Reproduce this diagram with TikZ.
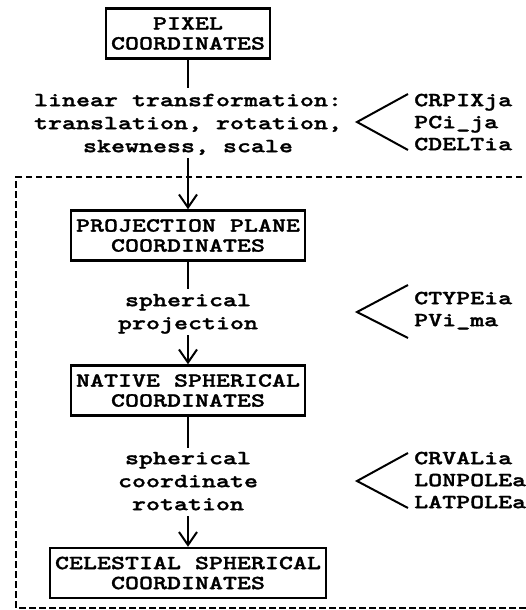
\documentclass[tikz,border=0pt]{standalone}
\usepackage{fontspec}
\newfontfamily\cour[FakeStretch=1.333,FakeBold=1.5]{lmmonolt10-bold.otf}
\usetikzlibrary{arrows.meta}
\begin{document}
\begin{tikzpicture}[x=1pt,y=-1pt,
  box/.style={draw, line width=2.5pt, inner xsep=5pt, inner ysep=0pt,
    minimum height=50pt, align=center, font=\cour\fontsize{20}{20}\selectfont},
  lbl/.style={align=center, inner sep=0pt, anchor=north,
    font=\cour\fontsize{20}{23}\selectfont},
  parm/.style={align=left, inner sep=0pt, anchor=north west,
    font=\cour\fontsize{20}{22}\selectfont},
  conn/.style={line width=2pt},
  arr/.style={conn, -{Straight Barb[length=13pt,width=18pt]}},
  brk/.style={line width=2pt, line join=miter},
  frame/.style={line width=1.2pt, dash pattern=on 6.5pt off 3.5pt}]
\useasboundingbox (0,0) rectangle (526,610);
% dashed frame
\draw[frame] (532,177) -- (16,177) -- (16,608) -- (532,608);
% boxes and texts
\node[box] (pix) at (188,33.5) {PIXEL\\COORDINATES};
\node[lbl] (lin) at (188,88) {\rule{0pt}{18pt}linear transformation:\\translation, rotation,\\skewness, scale\rule[-6pt]{0pt}{6pt}};
\node[box] (ppc) at (188,235.5) {PROJECTION PLANE\\COORDINATES};
\node[lbl] (sph) at (188,289) {\rule{0pt}{17pt}spherical\\projection\rule[-6pt]{0pt}{6pt}};
\node[box] (nsc) at (188,390.5) {NATIVE SPHERICAL\\COORDINATES};
\node[lbl] (rot) at (188,448) {\rule{0pt}{16pt}spherical\\coordinate\\rotation\rule[-6pt]{0pt}{6pt}};
\node[box] (csc) at (188,573) {CELESTIAL SPHERICAL\\COORDINATES};
% connectors
\draw[conn] (pix) -- (lin);
\draw[arr] (lin) -- (ppc);
\draw[conn] (ppc) -- (sph);
\draw[arr] (sph) -- (nsc);
\draw[conn] (nsc) -- (rot);
\draw[arr] (rot) -- (csc);
% brackets
\coordinate (b1) at (357,122);
\coordinate (b2) at (357,312);
\coordinate (b3) at (357,481);
\draw[brk] ([shift={(51,-28)}]b1) -- (b1) -- ([shift={(51,28)}]b1);
\draw[brk] ([shift={(51,-27)}]b2) -- (b2) -- ([shift={(51,26)}]b2);
\draw[brk] ([shift={(51,-28)}]b3) -- (b3) -- ([shift={(51,27)}]b3);
% parameter lists
\node[parm] (p1) at (414,89) {\rule{0pt}{17pt}CRPIXja\\PCi\_ja\\CDELTia};
\node[parm] (p2) at (414,287) {\rule{0pt}{17pt}CTYPEia\\PVi\_ma};
\node[parm] (p3) at (414,447) {\rule{0pt}{17pt}CRVALia\\LONPOLEa\\LATPOLEa};
\end{tikzpicture}
\end{document}
